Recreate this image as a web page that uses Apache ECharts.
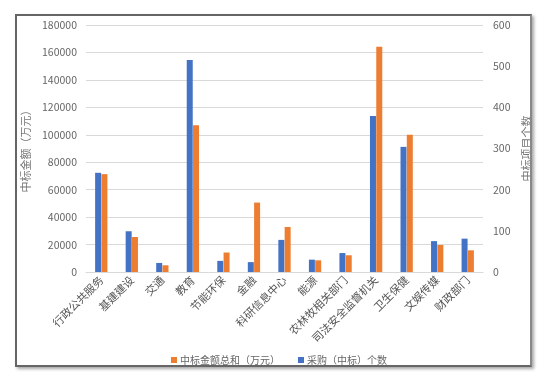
<!DOCTYPE html>
<html><head><meta charset="utf-8">
<script src="https://cdn.jsdelivr.net/npm/echarts@6/dist/echarts.min.js"></script>
<style>
html,body{margin:0;padding:0;background:#fff;}
#c{position:absolute;left:0;top:0;width:546px;height:381px;}
#frame{position:absolute;left:15px;top:14px;width:513px;height:349px;border:2px solid #666;border-right-color:#888;box-shadow:2px 2px 3px rgba(0,0,0,0.35);pointer-events:none;}
</style></head>
<body>
<div id="c"></div>
<div id="frame"></div>
<script>
const categories = ['行政公共服务','基建建设','交通','教育','节能环保','金融','科研信息中心','能源','农林牧相关部门','司法安全监督机关','卫生保健','文娱传媒','财政部门'];
const amountTotal = [71300, 25500, 4900, 107000, 14200, 50600, 32800, 8500, 12200, 164200, 100000, 19700, 15800];
const purchaseCount = [241, 99, 22, 515, 27, 24, 78, 30, 46, 379, 304, 75, 81];
const leftTicks = {min:0, max:180000, interval:20000};
const rightTicks = {min:0, max:600, interval:100};

const chart = echarts.init(document.getElementById('c'));
const font = 'Microsoft YaHei, "Noto Sans CJK SC", sans-serif';
chart.setOption({
  animation:false,
  textStyle:{fontFamily:font},
  grid:{left:86, right:63, top:25, bottom:109, containLabel:false},
  legend:{
    data:['中标金额总和（万元）','采购（中标）个数'],
    bottom:11, left:166, itemWidth:6, itemHeight:6, itemGap:18,
    icon:'rect',
    textStyle:{color:'#666', fontSize:10, fontFamily:font, padding:[0,0,0,-2]}
  },
  xAxis:{
    type:'category', data:categories,
    axisLine:{lineStyle:{color:'#d9d9d9'}},
    axisTick:{show:false},
    axisLabel:{rotate:45, interval:0, color:'#555', fontSize:11, margin:6}
  },
  yAxis:[
    {type:'value', min:leftTicks.min, max:leftTicks.max, interval:leftTicks.interval,
     name:'中标金额（万元）', nameLocation:'middle', nameGap:33, nameRotate:90,
     nameTextStyle:{color:'#777', fontSize:11},
     axisLabel:{color:'#666', fontSize:10.5, margin:9, formatter:function(v){return String(v);}},
     splitLine:{lineStyle:{color:'#d9d9d9'}}, axisLine:{show:false}, axisTick:{show:false}},
    {type:'value', min:rightTicks.min, max:rightTicks.max, interval:rightTicks.interval,
     name:'中标项目个数', nameLocation:'middle', nameGap:26, nameRotate:90,
     nameTextStyle:{color:'#777', fontSize:11},
     axisLabel:{color:'#666', fontSize:10.5, margin:10},
     splitLine:{show:false}, axisLine:{show:false}, axisTick:{show:false}}
  ],
  series:[
    {name:'采购（中标）个数', type:'bar', yAxisIndex:1, data:purchaseCount,
     barWidth:6, barGap:'5%', itemStyle:{color:'#4472C4'}},
    {name:'中标金额总和（万元）', type:'bar', yAxisIndex:0, data:amountTotal,
     barWidth:6, itemStyle:{color:'#ED7D31'}}
  ]
});
</script>
</body></html>
